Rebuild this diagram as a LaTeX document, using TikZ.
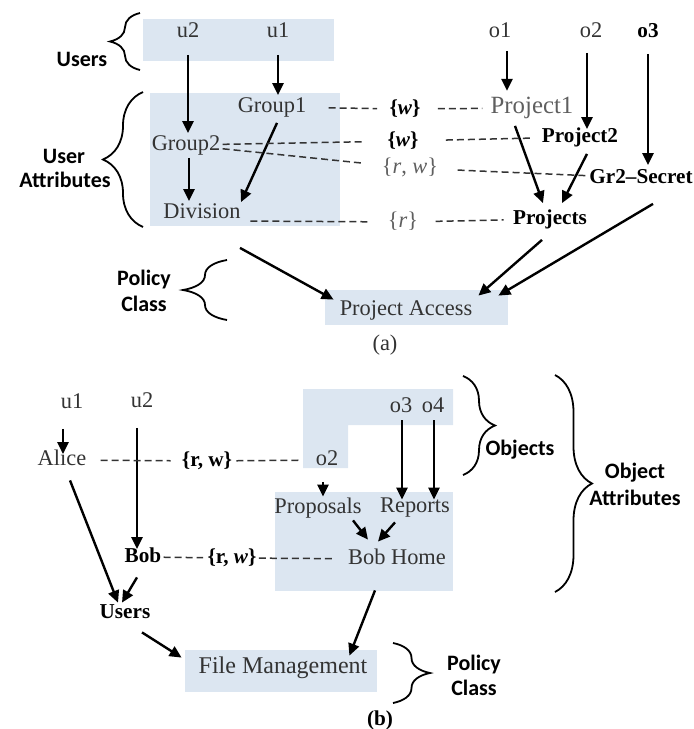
\documentclass[tikz,border=0pt]{standalone}
\usepackage{fontspec}
\setmainfont{Liberation Serif}
\newfontfamily\lblfont{Carlito}
\usetikzlibrary{arrows.meta,decorations.pathreplacing,calc}
\definecolor{paneblue}{HTML}{DCE6F1}
\definecolor{inkgray}{HTML}{333333}
\definecolor{softgray}{HTML}{5F5F5F}

\begin{document}
\begin{tikzpicture}[x=0.5pt,y=-0.5pt,
  txt/.style={font=\fontsize{11.2}{13}\selectfont, text=inkgray, inner sep=1pt,
              text height=7.5pt, text depth=2pt},
  btxt/.style={font=\fontsize{10.6}{12}\selectfont\bfseries, text=black, inner sep=1pt,
              text height=7.5pt, text depth=2pt},
  lbl/.style={font=\lblfont\fontsize{11}{13}\selectfont\bfseries, text=black, inner sep=0pt},
  arr/.style={line width=1.2pt, draw=black, -{Triangle[length=6pt,width=5.5pt]}},
  dsh/.style={line width=0.75pt, draw=inkgray, dash pattern=on 3.5pt off 2pt},
  pane/.style={fill=paneblue, draw=none},
  brc/.style={decorate, decoration={brace, amplitude=#1}, line width=0.9pt},
]
\useasboundingbox (0,0) rectangle (694,729);

%% ---------------- (a) ----------------
% shaded panes
\fill[paneblue] (143,19) rectangle (334,61);
\fill[paneblue] (150,93) rectangle (340,226);
\node[pane, minimum width=91.5pt, minimum height=17.5pt, inner sep=0pt] (pa) at (416.5,307.5) {};

% users and user attributes
\node[txt] (u2a) at (188,32) {u2};
\node[txt] (u1a) at (278,32) {u1};
\node[txt] (group1) at (272,107) {Group1};
\node[txt] (group2) at (186,145) {Group2};
\node[txt] (division) at (202,213) {Division};

% objects and object attributes
\node[txt] (o1a) at (500,32) {o1};
\node[txt] (o2a) at (591,32) {o2};
\node[btxt] (o3a) at (648,32) {o3};
\node[txt, font=\fontsize{12.4}{14}\selectfont, text=softgray] (project1) at (532,108) {Project1};
\node[btxt] (project2) at (580,137) {Project2};
\node[btxt] (gr2) at (641,178) {Gr2–Secret};
\node[btxt] (projects) at (550,219) {Projects};

% policy class
\node[txt] (patext) at (406,310) {Project Access};
\node[txt] (capa) at (385,345) {(a)};

% access rights
\node[btxt] (w1) at (405,109) {\{\textit{w}\}};
\node[btxt] (w2) at (403,141) {\{\textit{w}\}};
\node[txt, text=softgray] (rw) at (410,168) {\{\textit{r}, \textit{w}\}};
\node[txt, text=softgray] (r1) at (403,222) {\{\textit{r}\}};

% brace labels
\node[lbl] (lusers) at (82,59) {Users};
\node[lbl] (luser) at (64,156) {User};
\node[lbl] (lattr) at (65,180) {Attributes};
\node[lbl] (lpolicya) at (144,280) {Policy};
\node[lbl] (lclassa) at (144,304) {Class};

\draw[brc=15pt] (140,70) -- (140,13);
\draw[brc=20pt] (143,227) -- (143,92);
\draw[brc=22pt] (227,320) -- (227,260);

% assignments
\draw[arr, shorten <=5.5pt] (u2a.south) -- (u2a.south |- group2.north);
\draw[arr, shorten <=5.5pt] (u1a.south) -- (u1a.south |- group1.north);
\draw[arr] ($(group2.south)+(3,1)$) -- ($(group2.south |- division.north)+(3,0)$);
\draw[arr] ($(group1.south)+(5,4)$) -- ($(division.north east)+(-2,1)$);
\draw[arr] ($(o1a.south)+(7,7)$) -- ($(o1a.south)+(7,47)$);
\draw[arr] ($(o2a.south)+(-4,9)$) -- ($(o2a.south |- project2.north)+(-4,4)$);
\draw[arr] ($(o3a.south)+(0,10)$) -- ($(o3a.south |- gr2.north)+(0,-1)$);
\draw[arr] ($(project1.south)+(-17,6)$) -- ($(projects.north)+(-7,-4)$);
\draw[arr] ($(project2.south)+(7,5)$) -- ($(projects.north)+(12,-4)$);
\draw[arr] ($(projects.south)+(-8,9)$) -- ($(pa.north east)+(-30,6)$);
\draw[arr] ($(gr2.south)+(12,14)$) -- ($(pa.north east)+(-10,6)$);
\draw[arr] ($(division.south)+(38,23)$) -- ($(pa.north west)+(9,10)$);

% associations
\draw[dsh, shorten <=10pt, shorten >=5pt] (group1) -- (w1);
\draw[dsh, shorten <=7.5pt, shorten >=3pt] (w1) -- (project1);
\draw[dsh, shorten >=10.5pt] (group2) -- (w2);
\draw[dsh, shorten <=12.5pt, shorten >=3.5pt] (w2) -- (project2);
\draw[dsh, shorten >=7.5pt] (group2) -- (rw);
\draw[dsh, shorten <=8.5pt] (rw) -- (gr2);
\draw[dsh, shorten <=3.75pt, shorten >=8pt] ([yshift=-4pt]division.east) -- (r1);
\draw[dsh, shorten <=7.5pt, shorten >=3.5pt] (r1) -- (projects);

%% ---------------- (b) ----------------
% shaded panes
\fill[paneblue] (303,389) -- (453,389) -- (453,425) -- (348,425) -- (348,468) -- (303,468) -- cycle;
\fill[paneblue] (275,492) rectangle (453,591);
\node[pane, minimum width=96pt, minimum height=21pt, inner sep=0pt] (fm) at (281,671) {};

% users and user attributes
\node[txt] (u1b) at (72,403) {u1};
\node[txt] (u2b) at (142,402) {u2};
\node[txt] (alice) at (62,460) {Alice};
\node[btxt] (bob) at (143,557) {Bob};
\node[btxt] (usersb) at (125,613) {Users};

% objects and object attributes
\node[txt] (o2b) at (327,460) {o2};
\node[txt] (o3b) at (401,407) {o3};
\node[txt] (o4b) at (433,407) {o4};
\node[txt] (proposals) at (318,508) {Proposals};
\node[txt] (reports) at (415,507) {Reports};
\node[txt] (bobhome) at (397,559) {Bob Home};

% policy class
\node[txt, font=\fontsize{12}{14}\selectfont] (fmtext) at (283,668) {File Management};
\node[btxt] (capb) at (380,720) {(b)};

% access rights
\node[btxt] (rw1) at (207,461) {\{r, w\}};
\node[btxt] (rw3) at (232,558) {\{r, \textit{w}\}};

% brace labels
\node[lbl] (lobjects) at (520,450) {Objects};
\node[lbl] (lobject) at (635,473) {Object};
\node[lbl] (lattrb) at (635,498) {Attributes};
\node[lbl] (lpolicyb) at (474,665) {Policy};
\node[lbl] (lclassb) at (474,688) {Class};

\draw[brc=16pt] (463,376) -- (463,475);
\draw[brc=18.5pt] (555,375) -- (555,592);
\draw[brc=18.5pt] (393,643) -- (393,703);

% assignments
\draw[arr] ($(u1b.south)+(-9,14)$) -- ($(alice.north)+(1,6)$);
\draw[arr] ($(u2b.south)+(-5,14)$) -- ($(bob.north)+(-6,4)$);
\draw[arr] ($(alice.south)+(8,8.5)$) -- ($(usersb.north)+(-7,1.5)$);
\draw[arr] ($(bob.south)+(-6,8.5)$) -- ($(usersb.north)+(-3,1.5)$);
\draw[arr] ($(usersb.south)+(17,7.5)$) -- ($(fm.north west)+(-3,8)$);
\draw[arr] ($(o2b.south)+(-4,10)$) -- ($(proposals.north)+(5,0.5)$);
\draw[arr] ($(o3b.south)+(1,1.5)$) -- ($(reports.north)+(-13,4.5)$);
\draw[arr] ($(o4b.south)+(1,1.5)$) -- ($(reports.north)+(19,4.5)$);
\draw[arr] ($(proposals.south)+(35,0.5)$) -- ($(bobhome.north)+(-29,-7.5)$);
\draw[arr] ($(reports.south)+(-20,3.5)$) -- ($(bobhome.north)+(-19,-5.5)$);
\draw[arr] ($(bobhome.south)+(-22,19.5)$) -- ($(fm.north east)+(-28,6)$);

% associations
\draw[dsh, shorten <=6pt, shorten >=4.5pt] (alice) -- (rw1);
\draw[dsh, shorten <=1pt, shorten >=7pt] (rw1) -- (o2b);
\draw[dsh, shorten >=1pt] (bob) -- (rw3);
\draw[dsh, shorten >=6.5pt] (rw3) -- (bobhome);
\end{tikzpicture}
\end{document}
